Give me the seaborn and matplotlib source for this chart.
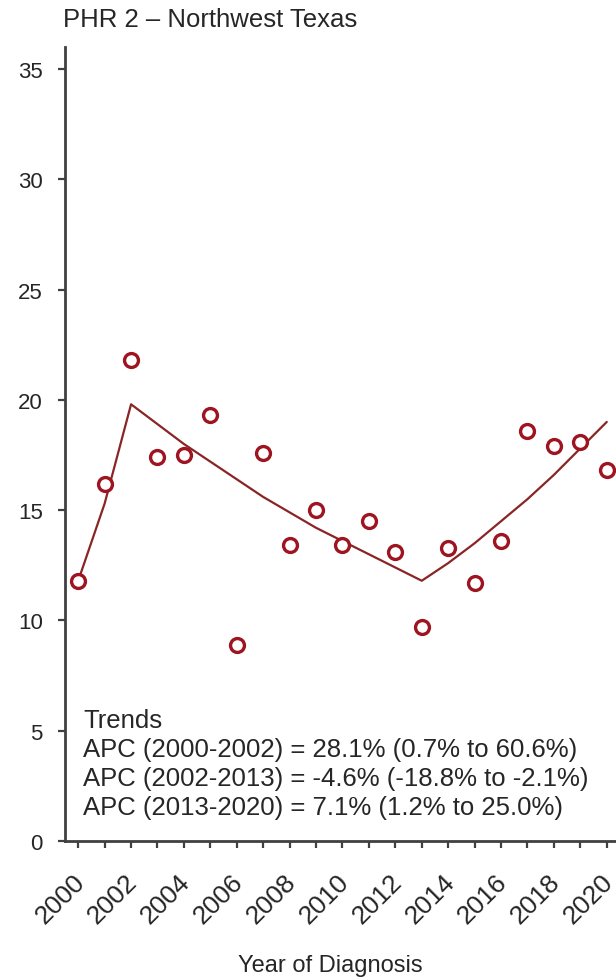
import matplotlib
matplotlib.use("Agg")
import matplotlib.pyplot as plt
import matplotlib.transforms as mtransforms
import seaborn as sns
import pandas as pd

years = list(range(2000, 2021))
observed = [11.8, 16.2, 21.8, 17.4, 17.5, 19.3, 8.9, 17.6, 13.4, 15.0, 13.4,
            14.5, 13.1, 9.7, 13.3, 11.7, 13.6, 18.6, 17.9, 18.1, 16.8]
fitted = [11.8, 15.3, 19.8, 18.9, 18.0, 17.2, 16.4, 15.6, 14.9, 14.2, 13.6,
          13.0, 12.4, 11.8, 12.6, 13.5, 14.5, 15.5, 16.6, 17.8, 19.0]
title = "PHR 2 \u2013 Northwest Texas"
trend_lines = ["Trends",
               "APC (2000-2002) = 28.1% (0.7% to 60.6%)",
               "APC (2002-2013) = -4.6% (-18.8% to -2.1%)",
               "APC (2013-2020) = 7.1% (1.2% to 25.0%)"]
xticks = list(range(2000, 2021, 2))
yticks = [0, 5, 10, 15, 20, 25, 30, 35]

df = pd.DataFrame({"year": years, "observed": observed, "fitted": fitted})

sns.set_theme(style="ticks")
plt.rcParams["font.family"] = ["Liberation Sans", "DejaVu Sans"]
text_color = "#262626"
axis_color = "#404040"

W, H = 616, 978
fig = plt.figure(figsize=(W / 100, H / 100), dpi=100)
ax = fig.add_axes([65 / W, (H - 842) / H, (W - 65) / W, (842 - 48) / H])

sns.lineplot(data=df, x="year", y="fitted", ax=ax, color="#8a2525",
             linewidth=1.6, zorder=2)
sns.scatterplot(data=df, x="year", y="observed", ax=ax, marker="o", s=100,
                facecolor="white", edgecolor="#9e1420", linewidth=2.4, zorder=3)

ax.set_xlim(1999.5, 2020.35)
ax.set_ylim(0, 36)
ax.set_xticks(years)
ax.set_xticklabels([str(y) if y in xticks else "" for y in years],
                   rotation=45, ha="right", rotation_mode="anchor",
                   fontsize=19, color=text_color)
ax.set_yticks(yticks)
ax.set_yticklabels([str(v) for v in yticks], fontsize=16, color=text_color)
ax.tick_params(axis="both", direction="out", length=5, width=1.6,
               color=axis_color)
ax.tick_params(axis="y", pad=11)
ax.tick_params(axis="x", pad=5)
shift = mtransforms.ScaledTranslation(-6 / 100, -14 / 100, fig.dpi_scale_trans)
for lab in ax.get_xticklabels():
    lab.set_transform(lab.get_transform() + shift)
for side in ["top", "right"]:
    ax.spines[side].set_visible(False)
for side in ["left", "bottom"]:
    ax.spines[side].set_color(axis_color)
    ax.spines[side].set_linewidth(2.0)
ax.set_xlabel("")
ax.set_ylabel("")

fig.text(63 / W, 1 - 27 / H, title, fontsize=18.5, color=text_color,
         ha="left", va="baseline")
for i, line in enumerate(trend_lines):
    fig.text(83 / W, 1 - (728 + 29 * i) / H, line, fontsize=18.5,
             color=text_color, ha="left", va="baseline")
fig.text(330 / W, 1 - 972 / H, "Year of Diagnosis", fontsize=17,
         color=text_color, ha="center", va="baseline")

fig.savefig("out.png", dpi=100, facecolor="white")
